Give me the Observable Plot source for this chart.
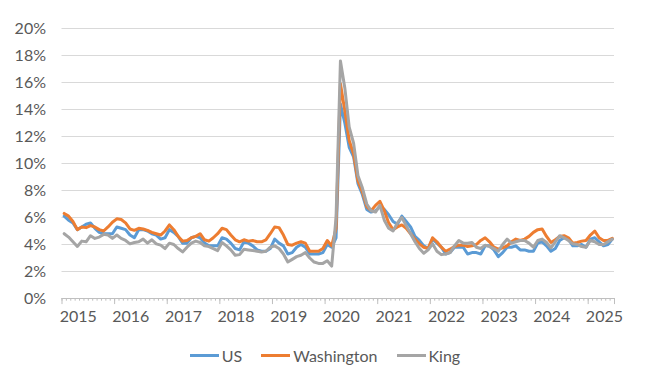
<!DOCTYPE html>
<html>
<head>
<meta charset="utf-8">
<script src="https://cdn.jsdelivr.net/npm/d3@7"></script>
<script src="https://cdn.jsdelivr.net/npm/@observablehq/plot@0.6"></script>
<style>
  html, body { margin: 0; padding: 0; background: #fff; }
  #chart { width: 650px; }
  .legend { display: flex; justify-content: center; align-items: center; gap: 19px;
            font-family: Lato, sans-serif; font-size: 16px; color: #595959;
            height: 22px; margin-top: 6px; padding-left: 0px; }
  .item { display: flex; align-items: center; }
  .sw { width: 29px; height: 3px; margin-right: 3px; }
</style>
</head>
<body>
<div id="chart"></div>
<script>
// Monthly unemployment rate (%), Jan 2015 – Jun 2025
const years = [2015, 2016, 2017, 2018, 2019, 2020, 2021, 2022, 2023, 2024, 2025];
const yTicks = [0, 2, 4, 6, 8, 10, 12, 14, 16, 18, 20];

const us = [
  6.1, 5.8, 5.6, 5.1, 5.3, 5.5, 5.6, 5.2, 4.9, 4.8, 4.8, 4.8,
  5.3, 5.2, 5.1, 4.7, 4.5, 5.1, 5.1, 5.0, 4.8, 4.7, 4.4, 4.5,
  5.1, 4.9, 4.6, 4.1, 4.1, 4.5, 4.6, 4.5, 4.1, 3.9, 3.9, 3.9,
  4.5, 4.4, 4.1, 3.7, 3.6, 4.2, 4.1, 3.9, 3.6, 3.5, 3.5, 3.7,
  4.4, 4.1, 3.9, 3.3, 3.4, 3.8, 4.0, 3.8, 3.3, 3.3, 3.3, 3.4,
  4.0, 3.8, 4.5, 14.4, 13.0, 11.2, 10.5, 8.5, 7.7, 6.6, 6.4, 6.5,
  6.8, 6.6, 6.2, 5.7, 5.5, 6.1, 5.7, 5.3, 4.6, 4.3, 3.9, 3.7,
  4.4, 4.1, 3.8, 3.3, 3.4, 3.8, 3.8, 3.8, 3.3, 3.4, 3.4, 3.3,
  3.9, 3.9, 3.6, 3.1, 3.4, 3.8, 3.8, 3.9, 3.6, 3.6, 3.5, 3.5,
  4.1, 4.2, 3.9, 3.5, 3.7, 4.3, 4.5, 4.4, 3.9, 3.9, 4.0, 3.8,
  4.4, 4.5, 4.2, 3.9, 4.0, 4.4
];

const washington = [
  6.3, 6.1, 5.7, 5.1, 5.3, 5.25, 5.4, 5.3, 5.1, 5.0, 5.3, 5.65,
  5.9, 5.85, 5.6, 5.15, 5.05, 5.2, 5.15, 5.05, 4.9, 4.8, 4.7, 5.0,
  5.45, 5.1, 4.6, 4.25, 4.3, 4.5, 4.6, 4.8, 4.35, 4.25, 4.5, 4.8,
  5.2, 5.1, 4.7, 4.35, 4.2, 4.35, 4.25, 4.3, 4.2, 4.2, 4.35, 4.8,
  5.3, 5.25, 4.7, 4.0, 3.95, 4.1, 4.2, 4.1, 3.5, 3.5, 3.5, 3.7,
  4.3, 3.9, 5.2, 15.9, 13.9, 11.7, 10.7, 8.7, 7.9, 6.8, 6.5, 6.9,
  7.2, 6.5, 5.6, 5.1, 5.3, 5.45, 5.2, 4.8, 4.4, 4.05, 3.8, 3.7,
  4.5, 4.2, 3.8, 3.5, 3.65, 3.85, 3.95, 3.95, 3.85, 3.9, 4.0, 4.3,
  4.5, 4.2, 3.8, 3.65, 3.75, 3.9, 4.2, 4.4, 4.3, 4.4, 4.6, 4.9,
  5.1, 5.15, 4.6, 4.15, 4.35, 4.6, 4.65, 4.5, 4.1, 4.15, 4.25, 4.3,
  4.7, 5.0, 4.5, 4.3, 4.3, 4.45
];

const king = [
  4.8, 4.55, 4.2, 3.85, 4.25, 4.2, 4.65, 4.45, 4.55, 4.75, 4.7, 4.45,
  4.7, 4.45, 4.3, 4.05, 4.15, 4.2, 4.4, 4.1, 4.35, 4.05, 3.95, 3.7,
  4.1, 4.0, 3.7, 3.45, 3.8, 4.1, 4.25, 4.15, 3.9, 3.85, 3.7, 3.55,
  4.15, 3.9, 3.6, 3.2, 3.25, 3.65, 3.6, 3.55, 3.5, 3.45, 3.5, 3.8,
  3.9, 3.7, 3.3, 2.7, 2.9, 3.1, 3.2, 3.4, 3.0, 2.7, 2.6, 2.6,
  2.8, 2.4, 6.0, 17.6, 15.6, 12.7, 11.5, 9.1, 8.2, 7.0, 6.5, 6.4,
  6.9, 5.8, 5.2, 5.0, 5.6, 6.0, 5.4, 4.8, 4.2, 3.7, 3.35, 3.6,
  4.05, 3.5, 3.25, 3.3, 3.4, 3.9, 4.3, 4.1, 4.1, 4.15, 3.8, 3.7,
  3.95, 3.85, 3.7, 3.5, 4.0, 4.4, 4.1, 4.2, 4.3, 4.3, 4.1, 3.8,
  4.3, 4.4, 4.15, 3.75, 4.2, 4.65, 4.5, 4.3, 4.05, 4.0, 3.85, 3.8,
  4.3, 4.2, 4.0, 4.0, 4.2, 4.4
];

const seriesNames = ["US", "Washington", "King"];
const seriesColors = ["#5B9BD5", "#ED7D31", "#A5A5A5"];
const seriesValues = [us, washington, king];

const nMonths = us.length;
const majorTicks = d3.range(0, nMonths + 1, 12).concat([nMonths]);
const minorTicks = d3.range(0, nMonths + 1);

const toRows = (arr) => arr.map((v, i) => ({ x: i + 0.5, v }));

const textColor = "#595959";
const plot = Plot.plot({
  width: 650,
  height: 338,
  marginLeft: 61.5,
  marginRight: 36,
  marginTop: 28,
  marginBottom: 40,
  x: { domain: [0, nMonths], axis: null, label: null },
  y: { domain: [0, 20], axis: null, label: null },
  style: { fontFamily: "Lato, sans-serif", fontSize: "16px", color: textColor, background: "#fff" },
  marks: [
    Plot.gridY(yTicks.filter(d => d > 0), { stroke: "#d9d9d9", strokeOpacity: 1, strokeWidth: 1 }),
    Plot.axisY(yTicks, { tickSize: 0, tickPadding: 16, tickFormat: d => d + "%", fontSize: 16, fill: textColor, label: null }),
    Plot.ruleX(minorTicks, { x: d => d, y1: 0, y2: -0.2, stroke: "#bfbfbf" }),
    Plot.ruleX(majorTicks, { x: d => d, y1: 0, y2: -0.45, stroke: "#bfbfbf" }),
    Plot.ruleY([0], { stroke: "#bfbfbf" }),
    Plot.text(years, { x: (d, i) => i * 12 + 3.7, y: 0, dy: 18, text: d => String(d), fill: textColor, fontSize: 16, lineAnchor: "middle" }),
    ...seriesValues.map((arr, k) =>
      Plot.line(toRows(arr), { x: "x", y: "v", stroke: seriesColors[k], strokeWidth: 3, strokeLinejoin: "round", strokeLinecap: "round" })
    )
  ]
});
document.getElementById("chart").appendChild(plot);

const legend = document.createElement("div");
legend.className = "legend";
seriesNames.forEach((name, k) => {
  const item = document.createElement("div");
  item.className = "item";
  const sw = document.createElement("span");
  sw.className = "sw";
  sw.style.background = seriesColors[k];
  const label = document.createElement("span");
  label.textContent = name;
  item.appendChild(sw);
  item.appendChild(label);
  legend.appendChild(item);
});
document.getElementById("chart").appendChild(legend);
</script>
</body>
</html>
